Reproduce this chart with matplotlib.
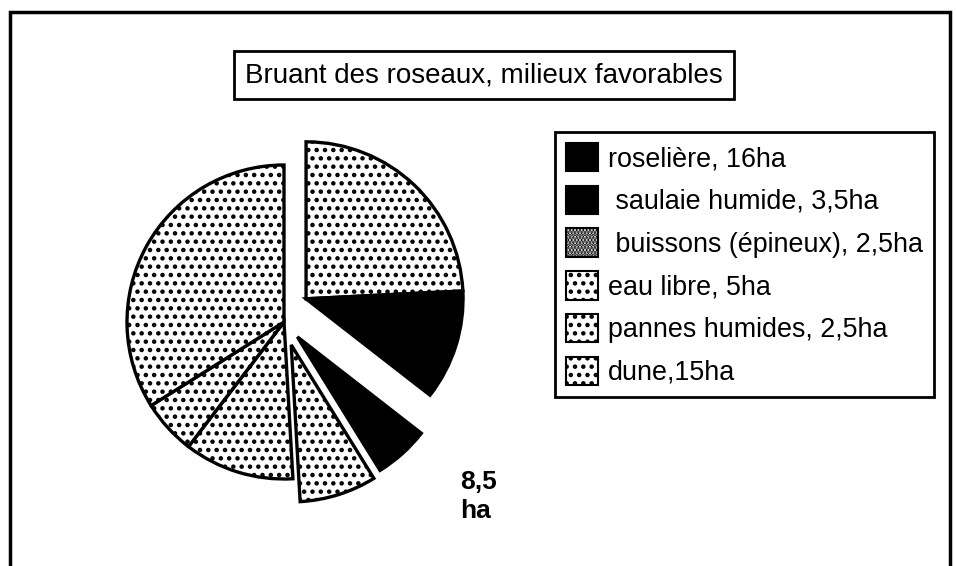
import matplotlib
matplotlib.use('Agg')
import matplotlib.pyplot as plt
from matplotlib.patches import Patch, Rectangle

W, H = 957, 566

title = 'Bruant des roseaux, milieux favorables'
legend_labels = ['roselière, 16ha', ' saulaie humide, 3,5ha', ' buissons (épineux), 2,5ha',
                 'eau libre, 5ha', 'pannes humides, 2,5ha', 'dune,15ha']
legend_fills = ['black', 'black', 'fine', 'dots', 'dots', 'dots']

# slices as drawn, clockwise from 12 o'clock (ha)
slice_values = [10.7, 5, 2.5, 3.5, 5, 2.5, 15]
slice_fills = ['dots', 'black', 'black', 'dots', 'dots', 'dots', 'dots']
side_label = '8,5\nha'

FONT = ['Liberation Sans', 'DejaVu Sans']
hatches = {'black': None, 'dots': '..', 'fine': '.....'}
faces = {'black': 'black', 'dots': 'white', 'fine': 'white'}


def sy(y):
    # screen pixel row -> data y
    return H - y


plt.rcParams['hatch.linewidth'] = 2.0
fig = plt.figure(figsize=(W / 100, H / 100), dpi=100)
ax = fig.add_axes([0, 0, 1, 1])

wedges, _ = ax.pie(slice_values,
                   startangle=90, counterclock=False,
                   radius=157, center=(284, sy(322)),
                   explode=[32, 32, 20, 24, 0, 0, 0],
                   colors=[faces[f] for f in slice_fills],
                   hatch=[hatches[f] for f in slice_fills],
                   wedgeprops=dict(edgecolor='black', linewidth=2.4))
# the black part of the first slice stays attached to it
wedges[1].set_center(wedges[0].center)

ax.set_xlim(0, W)
ax.set_ylim(0, H)
ax.axis('off')

# outer frame (bottom edge cut off)
ax.add_patch(Rectangle((10, -20), 940, sy(12) + 20, fill=False,
                       edgecolor='black', linewidth=2.5))

ax.text(484, sy(75), title, ha='center', va='center', fontsize=20, family=FONT,
        bbox=dict(boxstyle='square,pad=0.4', facecolor='white', edgecolor='black', linewidth=2))

handles = [Patch(facecolor=faces[f], edgecolor='black', hatch=hatches[f], linewidth=1.5)
           for f in legend_fills]
leg = ax.legend(handles, legend_labels, loc='upper left',
                bbox_to_anchor=(555 / W, 1 - 132 / H), bbox_transform=fig.transFigure,
                frameon=True, fancybox=False, edgecolor='black', framealpha=1,
                prop=dict(family=FONT, size=19.4),
                handlelength=1.2, handleheight=1.25, handletextpad=0.38,
                labelspacing=0.5, borderpad=0.4, borderaxespad=0)
leg.get_frame().set_linewidth(2)

ax.text(460, sy(470), side_label, ha='left', va='top', fontsize=19, fontweight='bold',
        family=FONT, linespacing=1.25)

fig.savefig('out.png', dpi=100, facecolor='white')
